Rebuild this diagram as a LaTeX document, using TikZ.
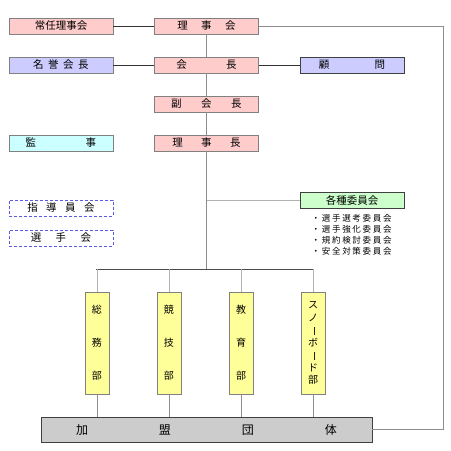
\documentclass[tikz,border=0pt]{standalone}
\usepackage{fontspec}
\setmainfont{Noto Sans CJK JP}
\newfontfamily\listfont[LetterSpace=20]{Noto Sans CJK JP}
\usetikzlibrary{positioning, calc}
\definecolor{pinkbox}{RGB}{255, 204, 204}
\definecolor{lavbox}{RGB}{204, 204, 255}
\definecolor{cyanbox}{RGB}{204, 255, 255}
\definecolor{greenbox}{RGB}{204, 255, 204}
\definecolor{yellowbox}{RGB}{255, 255, 153}
\definecolor{graybox}{RGB}{204, 204, 204}
\definecolor{boxline}{RGB}{128, 128, 128}
\definecolor{dashblue}{RGB}{90, 90, 230}
\newcommand{\gap}[1]{\hspace{#1pt}}

\begin{document}
\begin{tikzpicture}[x=1pt, y=-1pt, font=\fontsize{10.5}{12}\selectfont,
  post/.style={draw=boxline, semithick, minimum width=104pt, minimum height=16pt, inner sep=0pt},
  dept/.style={draw=boxline, semithick, fill=yellowbox, minimum width=24pt, minimum height=102pt,
               inner sep=0pt, align=center, font=\fontsize{10}{33}\selectfont},
  darkline/.style={draw=black!80, semithick},
  midline/.style={draw=black!45, semithick},
  paleline/.style={draw=black!30, semithick}]

  \useasboundingbox (0,0) rectangle (451,451);

  % top rows
  \node[post, fill=pinkbox] (jonin) at (61,26) {常任理事会};
  \node[post, fill=pinkbox] (riji) at (206.5,26) {理\gap{13.5}事\gap{13.5}会};
  \node[post, fill=lavbox] (meiyo) at (61,65) {名\gap{4.5}誉\gap{4.5}会\gap{4.5}長};
  \node[post, fill=pinkbox] (kaicho) at (206.5,65) {会\gap{39.5}長};
  \node[post, fill=lavbox, draw=black!75] (komon) at (352,65) {顧\gap{45.5}問};
  \node[post, fill=pinkbox] (fuku) at (206.5,104) {副\gap{19.5}会\gap{19.5}長};
  \node[post, fill=cyanbox] (kanji) at (61,143) {監\gap{49.5}事};
  \node[post, fill=pinkbox] (rijicho) at (206.5,143) {理\gap{18.5}事\gap{18.5}長};

  \node[post, fill=greenbox, draw=black!75] (iinkai) at (352,200) {各種委員会};
  \node[post, draw=dashblue, densely dashed] (shido) at (61,208) {指\gap{8.5}導\gap{8.5}員\gap{8.5}会};
  \node[post, draw=dashblue, densely dashed] (senshu) at (61,238) {選\gap{14.5}手\gap{14.5}会};

  \node[anchor=north west, inner sep=0pt, align=left, font=\fontsize{8.5}{11}\selectfont\listfont]
    (iinlist) at (311.5,214) {・選手選考委員会\\・選手強化委員会\\・規約検討委員会\\・安全対策委員会};

  % departments
  \foreach \x/\name/\txt in {97/somu/総\\務\\部, 169/kyogi/競\\技\\部, 241/kyoiku/教\\育\\部} {
    \node[dept] (\name) at (\x,343) {\txt};
  }
  \node[dept, font=\fontsize{10}{12.5}\selectfont] (snow) at (313,343)
    {ス\\ノ\\\rotatebox[origin=c]{-90}{ー}\\ボ\\\rotatebox[origin=c]{-90}{ー}\\ド\\部};

  \node[draw=black!75, semithick, fill=graybox, minimum width=331pt, minimum height=25pt, inner sep=0pt,
        font=\fontsize{12}{14}\selectfont] (kamei) at (206.5,429.5) {加\gap{71}盟\gap{71}団\gap{71}体};

  % connectors
  \draw[darkline] (jonin) -- (riji);
  \draw[darkline] (meiyo) -- (kaicho);
  \draw[darkline] (kaicho) -- (komon);
  \draw[midline] (riji) -- (kaicho);
  \draw[midline] (kaicho) -- (fuku);
  \draw[midline] (fuku) -- (rijicho);

  \coordinate (barL) at (96,269);
  \coordinate (barR) at (314,269);
  \coordinate (loop) at (443,0);

  \draw[midline] (rijicho.south) -- (rijicho.south |- barL);
  \draw[paleline] (iinkai.west -| rijicho) -- (iinkai.west);
  \draw[draw=black!70, semithick] (barL) -- (barR);

  \foreach \name in {somu, kyogi, kyoiku, snow} {
    \draw[paleline] (\name.north |- barL) -- (\name.north);
    \draw[midline] (\name.south) -- (\name.south |- kamei.north);
  }

  \draw[midline] (riji.east) -- (riji.east -| loop) -- (kamei.east -| loop) -- (kamei.east);

\end{tikzpicture}
\end{document}
